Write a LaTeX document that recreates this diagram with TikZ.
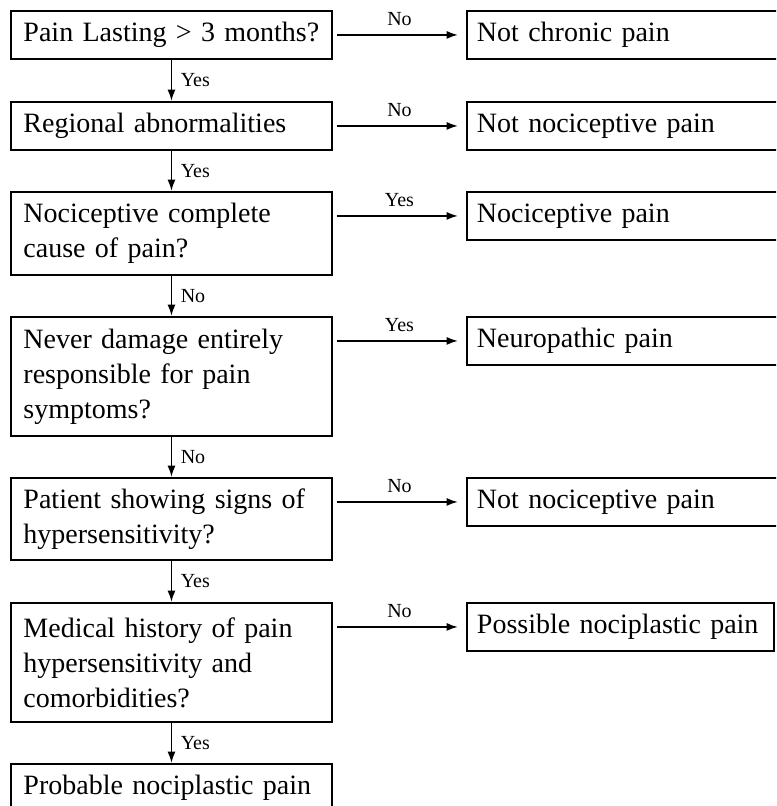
\documentclass[tikz,border=0pt]{standalone}
\usepackage{fontspec}
\setmainfont{Liberation Serif}
\usetikzlibrary{arrows.meta}
\begin{document}
\begin{tikzpicture}[x=0.75pt,y=-0.75pt,
  qbox/.style={draw, line width=1.4pt, anchor=north west, text width=222pt,
    inner xsep=9.4pt, inner ysep=0pt, align=left,
    font=\fontsize{21}{26.25}\selectfont},
  rbox/.style={draw, line width=1.4pt, anchor=north west, text width=225pt,
    inner xsep=7.5pt, inner ysep=0pt, minimum height=36pt, align=left,
    font=\fontsize{21}{26.25}\selectfont},
  arr/.style={line width=1.3pt, -{Latex[length=8.5pt,width=6pt]}},
  lbl/.style={font=\fontsize{15}{18}\selectfont}]
  \useasboundingbox (0,0) rectangle (776,806);
  \clip (0,0) rectangle (776,806);

  % questions on the left
  \node[qbox, minimum height=36pt] (q1) at (10,10) {\mbox{Pain Lasting > 3 months?}};
  \node[qbox, minimum height=36pt] (q2) at (10,101) {Regional abnormalities};
  \node[qbox, minimum height=62.25pt] (q3) at (10,191) {Nociceptive complete\\cause of pain?};
  \node[qbox, minimum height=89.25pt] (q4) at (10,316) {Never damage entirely\\responsible for pain\\symptoms?};
  \node[qbox, minimum height=61.5pt] (q5) at (10,477) {Patient showing signs of\\hypersensitivity?};
  \node[qbox, minimum height=89.25pt] (q6) at (10,602) {Medical history of pain\\hypersensitivity and\\comorbidities?};
  \node[qbox, minimum height=36pt] (q7) at (10,763) {\mbox{Probable nociplastic pain}};

  % outcomes on the right
  \node[rbox] (r1) at (466,10) {Not chronic pain};
  \node[rbox] (r2) at (466,101) {Not nociceptive pain};
  \node[rbox] (r3) at (466,191) {Nociceptive pain};
  \node[rbox] (r4) at (466,316) {Neuropathic pain};
  \node[rbox] (r5) at (466,477) {Not nociceptive pain};
  \node[rbox, text width=215.25pt] (r6) at (466,602) {\mbox{Possible nociplastic pain}};

  \foreach \i/\t in {1/No,2/No,3/Yes,4/Yes,5/No,6/No}{
    \draw[arr, shorten <=3pt, shorten >=6pt] (q\i.east |- r\i.west) -- (r\i.west)
      node[lbl, midway, above=3pt] {\t};
  }
  \foreach \i/\j/\t in {1/2/Yes,2/3/Yes,3/4/No,4/5/No,5/6/Yes,6/7/Yes}{
    \draw[arr] (q\i.south) -- (q\j.north) node[lbl, midway, right=3pt] {\t};
  }
\end{tikzpicture}
\end{document}
